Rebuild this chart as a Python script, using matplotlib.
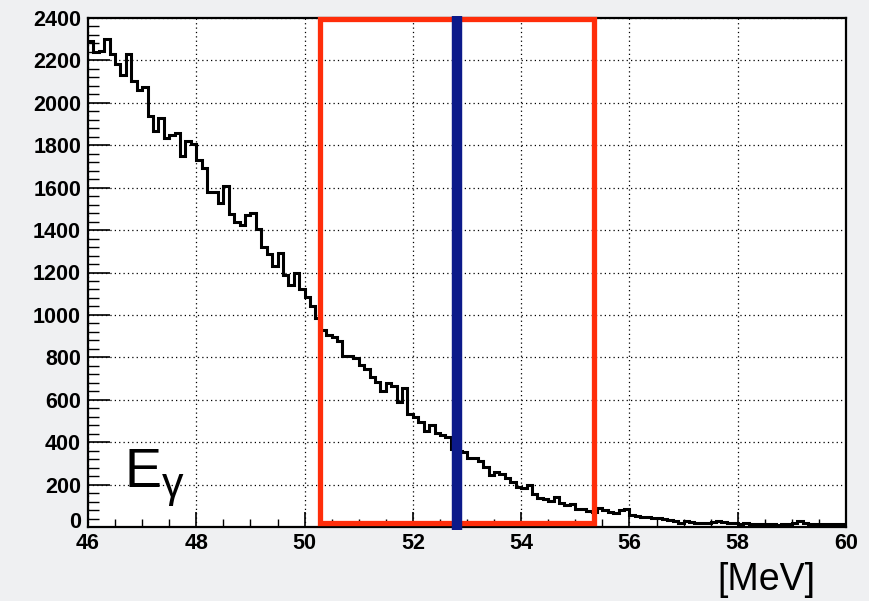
import numpy as np
import matplotlib
matplotlib.use("Agg")
import matplotlib.pyplot as plt
from matplotlib.patches import Rectangle
from matplotlib.ticker import MultipleLocator
from matplotlib.transforms import offset_copy

# ---- data (counts per 0.1 MeV bin, 46..60 MeV) ----
x_min, x_max, bin_width = 46.0, 60.0, 0.1
counts = [
    2290, 2240, 2245, 2300, 2230, 2185, 2130, 2230, 2105, 2060,
    2075, 1940, 1865, 1930, 1835, 1850, 1860, 1750, 1820, 1805,
    1730, 1695, 1580, 1580, 1530, 1610, 1475, 1440, 1425, 1470,
    1480, 1405, 1320, 1285, 1230, 1290, 1190, 1140, 1200, 1120,
    1085, 1040, 985, 930, 905, 895, 875, 805, 805, 798,
    765, 745, 706, 685, 640, 677, 666, 590, 657, 535,
    520, 493, 455, 483, 441, 433, 425, 370, 360, 355,
    323, 326, 310, 283, 243, 259, 251, 230, 214, 187,
    184, 200, 155, 139, 131, 123, 142, 115, 104, 107,
    83, 86, 75, 70, 89, 81, 73, 68, 78, 85,
    57, 52, 46, 49, 41, 44, 36, 33, 29, 20,
    29, 24, 20, 20, 21, 24, 27, 24, 20, 20,
    16, 17, 16, 14, 13, 16, 13, 11, 13, 16,
    19, 27, 17, 14, 14, 13, 14, 14, 16, 16,
]
x_ticks = [46, 48, 50, 52, 54, 56, 58, 60]
y_ticks = [0, 200, 400, 600, 800, 1000, 1200, 1400, 1600, 1800, 2000, 2200, 2400]

# signal window and cut
window_lo, window_hi = 50.29, 55.35
window_bottom, window_top = 18, 2396
cut_value = 52.82

edges = np.linspace(x_min, x_max, len(counts) + 1)

plt.rcParams['font.family'] = ['Liberation Sans', 'DejaVu Sans']

fig = plt.figure(figsize=(8.70, 6.01), dpi=100, facecolor='#eff0f2')
ax = fig.add_axes([88/870, 1 - 527/601, (846-88)/870, (527-18)/601])
ax.set_facecolor('white')

ax.stairs(counts, edges, color='black', linewidth=2.2, baseline=None, zorder=3)

ax.set_xlim(x_min, x_max)
ax.set_ylim(0, 2400)
ax.set_xticks(x_ticks)
ax.set_yticks(y_ticks)
ax.xaxis.set_minor_locator(MultipleLocator(0.5))
ax.yaxis.set_minor_locator(MultipleLocator(40))
ax.set_xticklabels([str(v) for v in x_ticks], fontsize=15.5, fontweight='bold')
ylabels = [str(v) for v in y_ticks]
ax.set_yticklabels([''] + ylabels[1:], fontsize=15.5, fontweight='bold')

ax.tick_params(axis='y', which='major', direction='in', length=16, width=1.2, pad=5)
ax.tick_params(axis='y', which='minor', direction='in', length=8, width=1.0)
ax.tick_params(axis='x', which='major', direction='in', length=11, width=1.2, pad=4)
ax.tick_params(axis='x', which='minor', direction='in', length=5.5, width=1.0)

# the "0" label sits a little higher, as in the reference
zero_tr = offset_copy(ax.get_yaxis_transform(), fig=fig, x=-7, y=4, units='dots')
ax.text(0, y_ticks[0], ylabels[0], transform=zero_tr, ha='right', va='center',
        fontsize=15.5, fontweight='bold')

for s in ax.spines.values():
    s.set_linewidth(1.6)
    s.set_color('black')

ax.grid(True, which='major', color='black', linestyle=(0, (1, 2.5)), linewidth=0.9, zorder=1)
ax.set_axisbelow(True)

# red window box
rect = Rectangle((window_lo, window_bottom), window_hi - window_lo, window_top - window_bottom,
                 fill=False, edgecolor='#ff2d0a', linewidth=3.8, zorder=4, clip_on=False)
ax.add_patch(rect)

# blue cut line
ax.plot([cut_value, cut_value], [-15, 2410], color='#0c1a8a', linewidth=7.5,
        solid_capstyle='butt', zorder=5, clip_on=False)

# labels
ax.text(46.68, 190, 'E', fontsize=40, color='black', ha='left', va='baseline', zorder=6)
ax.text(47.36, 140, 'γ', fontsize=31, color='black', ha='left', va='baseline', zorder=6)
fig.text(815/870, 1 - 590/601, '[MeV]', fontsize=27, ha='right', va='baseline')

fig.savefig('out.png', dpi=100, facecolor=fig.get_facecolor())
